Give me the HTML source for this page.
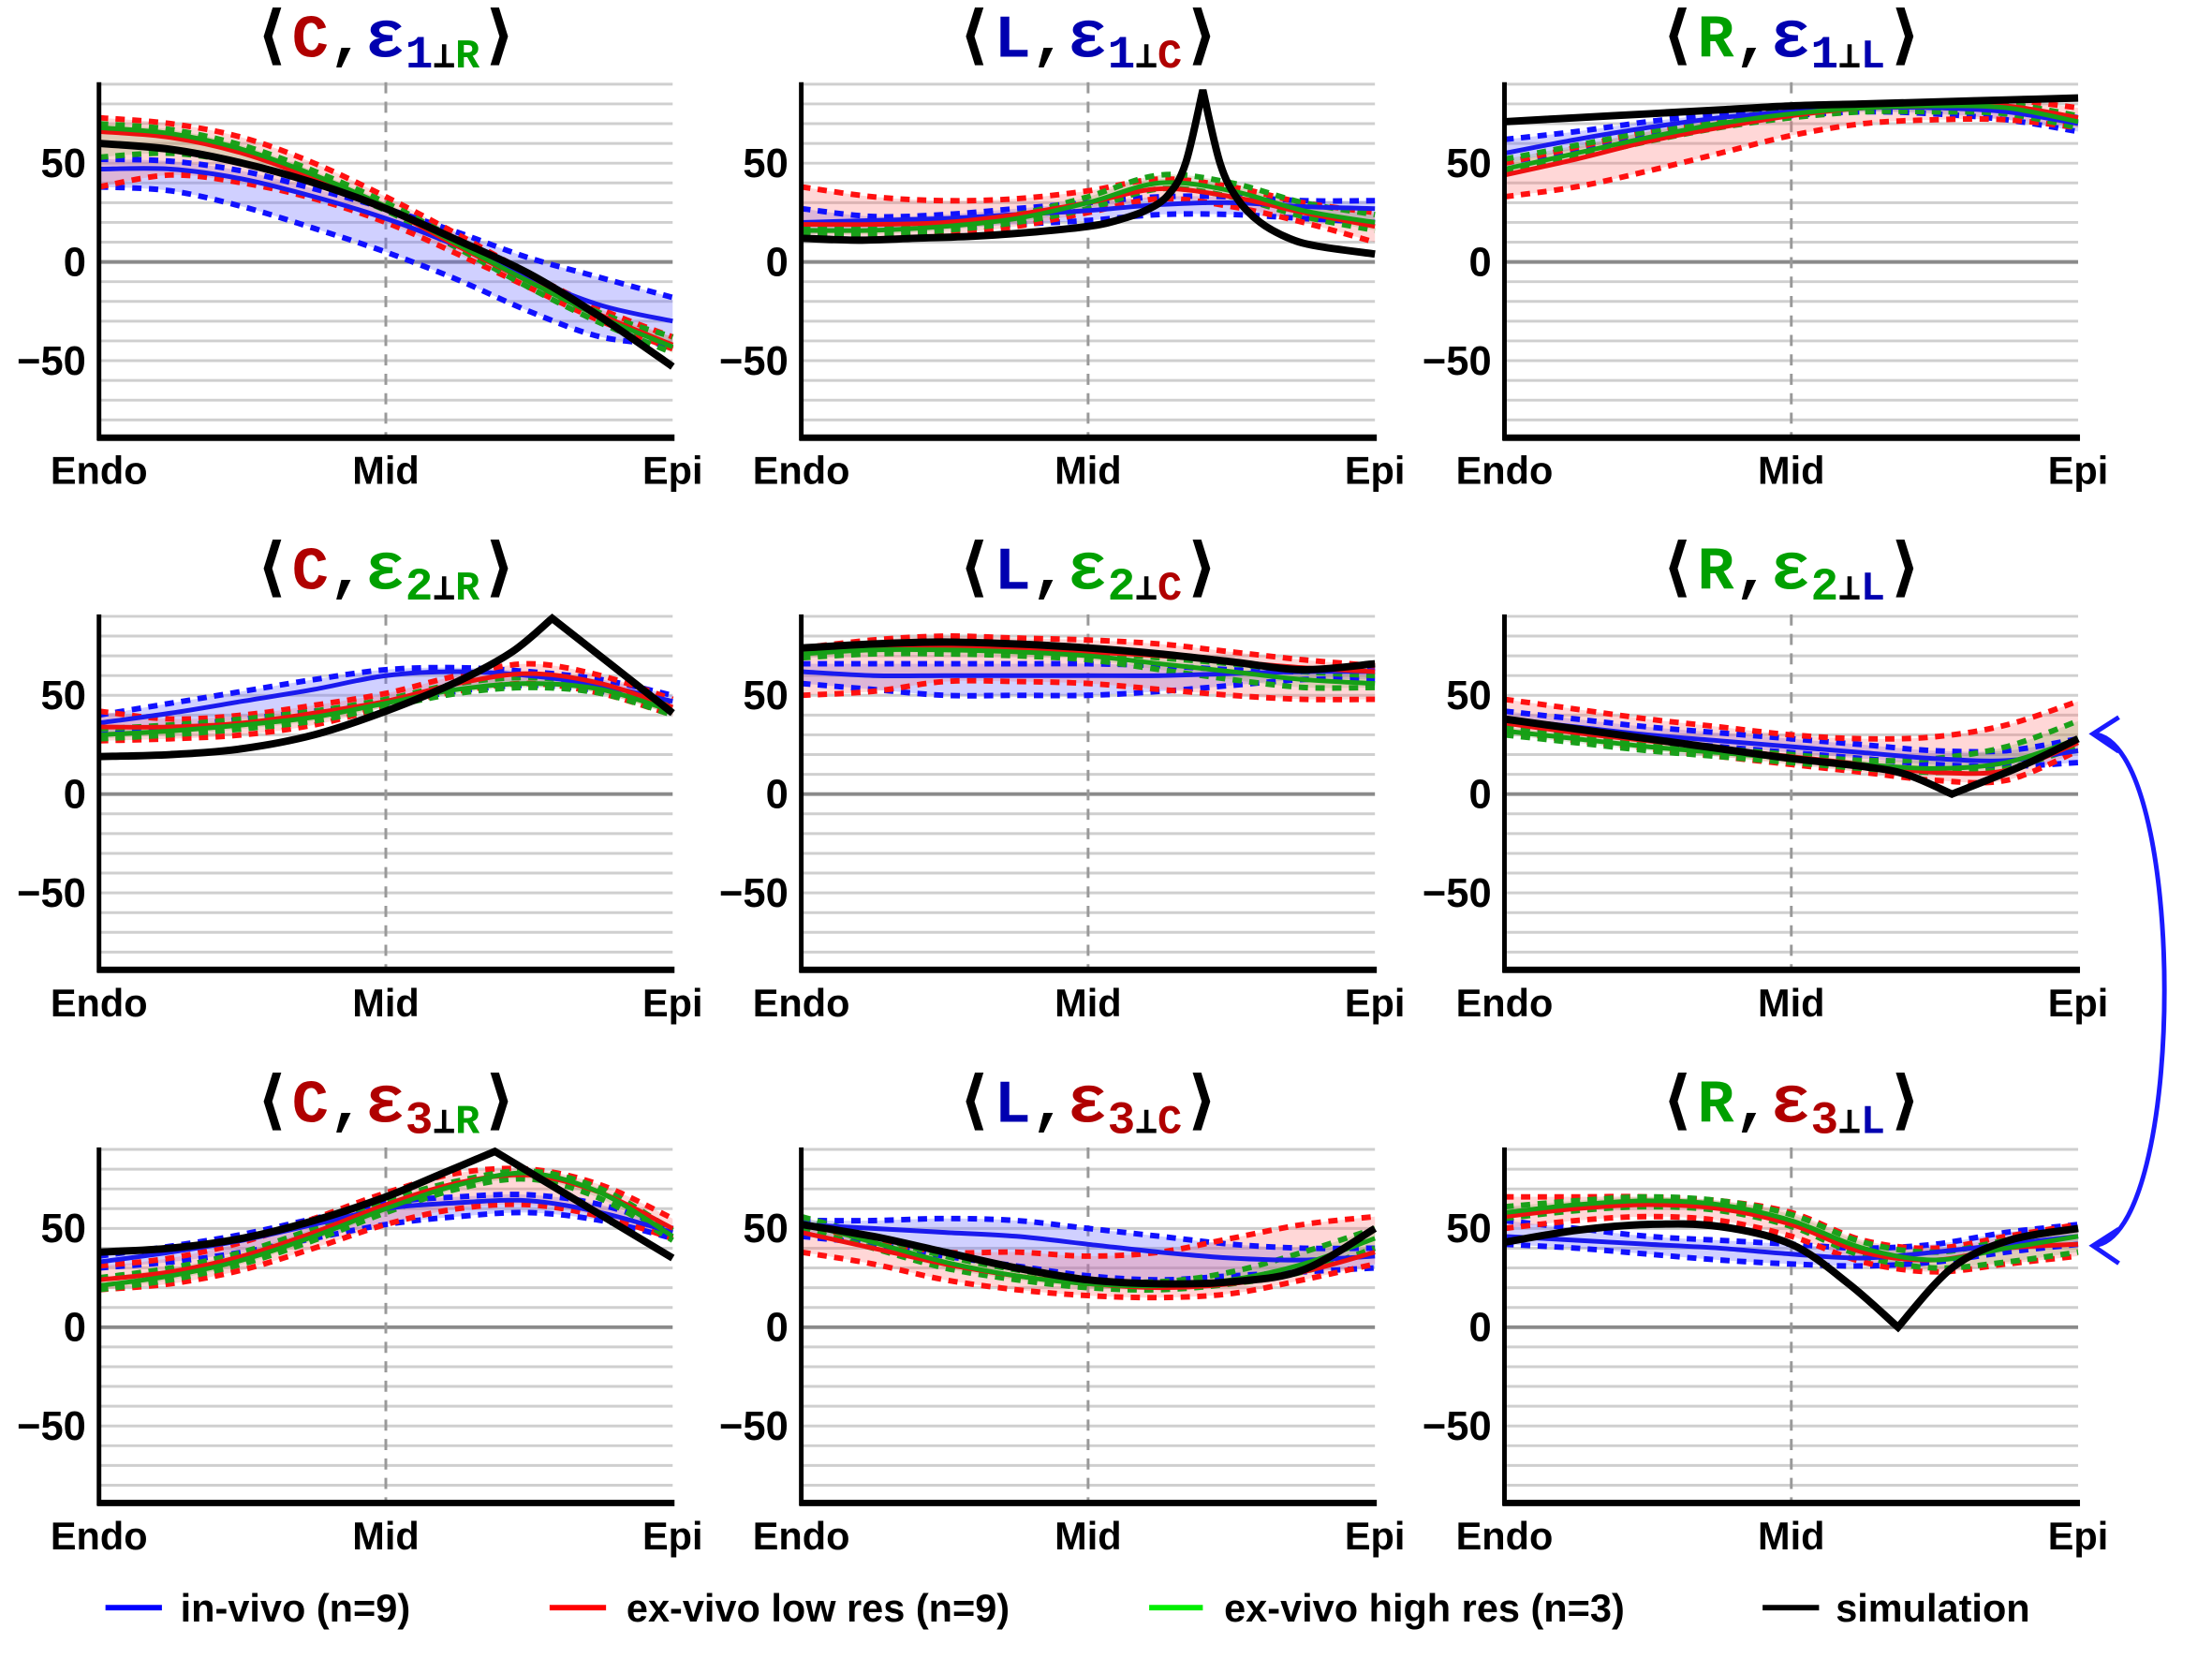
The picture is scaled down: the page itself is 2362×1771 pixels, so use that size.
<!DOCTYPE html>
<html><head><meta charset="utf-8"><style>
html,body{margin:0;padding:0;background:#fff;}
svg{display:block;}
text{font-family:"Liberation Sans Narrow","Liberation Sans",sans-serif;font-weight:bold;}
.t{font-family:"Liberation Mono",monospace;font-weight:bold;}
</style></head><body>
<svg id="fig" width="2362" height="1771" viewBox="0 0 2362 1771" xmlns="http://www.w3.org/2000/svg">
<g transform="scale(0.988)">
<g id="panels"></g>
<g>
 <line x1="114" y1="1737" x2="175" y2="1737" stroke="#0000ff" stroke-width="6"/>
 <text x="195" y="1752" font-size="42">in-vivo (n=9)</text>
 <line x1="594" y1="1737" x2="655" y2="1737" stroke="#ff0000" stroke-width="6"/>
 <text x="677" y="1752" font-size="42">ex-vivo low res (n=9)</text>
 <line x1="1242" y1="1737" x2="1300" y2="1737" stroke="#00ee00" stroke-width="6"/>
 <text x="1323" y="1752" font-size="42">ex-vivo high res (n=3)</text>
 <line x1="1905" y1="1737" x2="1966" y2="1737" stroke="#000" stroke-width="6"/>
 <text x="1984" y="1752" font-size="42">simulation</text>
</g>
<g fill="none" stroke="#1a1aff" stroke-width="5">
 <path d="M2262 793 C2365 800 2365 1340 2262 1346"/>
 <path d="M2290 775 L2262 793 L2290 812"/>
 <path d="M2290 1328 L2262 1346 L2290 1365"/>
</g>
</g>
</svg>
<script>
const xs=[0,0.125,0.25,0.375,0.5,0.625,0.75,0.875,1];
const blueMean=[[47,47,42,33,22,8,-8,-22,-30],[20,21,22,24,26,29,30,28,27],[55,62,68,73,76,78,78,76,70],[36,41,47,53,60,62,60,55,47],[62,60,60,60,60,60,61,62,62],[38,34,30,27,24,21,18,17,22],[33,38,44,52,60,63,64,58,48],[52,50,48,46,42,38,35,34,36],[46,44,42,40,37,35,38,42,46]];
const blueLo=[[38,36,28,17,5,-9,-25,-38,-42],[14,16,17,19,21,24,24,22,20],[50,57,64,70,74,76,75,72,66],[30,34,38,42,46,52,55,52,45],[56,53,50,50,50,52,55,58,58],[35,31,27,24,21,18,15,14,16],[30,33,38,45,52,56,58,54,45],[46,42,36,31,26,24,26,28,30],[42,40,37,34,32,31,33,38,42]];
const blueHi=[[52,51,46,37,27,15,2,-8,-18],[27,23,24,27,30,33,33,31,31],[62,66,71,75,78,79,79,78,73],[40,46,52,58,63,64,62,58,50],[66,66,66,66,66,65,63,62,64],[42,38,34,31,28,25,22,22,28],[36,41,47,55,63,66,67,62,50],[54,54,55,54,50,46,42,40,40],[54,50,46,44,42,40,42,48,52]];
const redMean=[[66,63,55,42,27,8,-10,-27,-42],[19,19,20,24,30,37,33,25,18],[44,52,61,68,74,78,79,79,73],[34,34,36,41,47,56,61,56,44],[72,74,75,74,72,70,67,64,62],[36,31,27,23,19,15,11,12,26],[24,28,36,48,62,73,77,68,50],[48,40,32,26,22,20,22,28,38],[56,60,62,60,52,38,34,40,42]];
const redLo=[[38,44,40,32,20,4,-13,-30,-44],[14,13,14,18,25,32,28,20,10],[33,38,46,55,64,70,72,72,68],[27,28,30,35,44,52,56,51,40],[50,52,57,57,56,53,50,48,48],[32,27,23,19,15,11,7,7,22],[19,22,29,40,52,60,62,56,45],[38,32,24,19,16,15,17,24,32],[50,54,56,54,46,33,28,32,36]];
const redHi=[[73,70,63,50,33,14,-6,-24,-38],[38,33,31,32,36,42,38,30,25],[50,58,66,72,77,80,81,82,78],[42,38,40,45,51,60,66,60,48],[74,78,80,79,78,76,72,68,65],[48,43,38,34,30,28,29,35,47],[31,35,43,55,68,78,80,72,55],[52,44,38,38,36,38,45,52,56],[66,66,66,64,58,44,40,46,52]];
const greenMean=[[68,65,57,44,28,9,-10,-28,-43],[16,16,18,22,30,40,36,26,20],[47,55,63,70,75,78,79,78,71],[30,32,35,39,46,53,56,53,42],[71,73,73,72,70,66,62,58,56],[32,28,24,21,18,15,13,16,28],[21,26,34,46,60,72,78,68,46],[53,43,33,26,22,21,24,32,45],[58,62,64,62,54,40,34,40,46]];
const greenLo=[[53,55,50,40,26,7,-13,-31,-46],[14,14,16,20,27,37,33,23,16],[45,53,61,68,73,76,76,75,68],[28,30,33,37,44,51,54,51,40],[69,71,71,70,68,63,58,54,54],[30,26,22,19,16,13,11,13,24],[19,24,32,44,58,70,75,65,44],[50,40,30,24,20,19,22,28,40],[55,59,61,59,51,36,30,33,38]];
const greenHi=[[70,67,59,46,30,11,-8,-26,-38],[18,18,20,24,33,44,40,30,24],[52,59,66,72,77,80,80,80,74],[33,35,38,42,48,56,59,55,45],[73,75,75,74,72,69,66,62,60],[34,30,26,23,20,17,18,24,37],[25,30,38,50,64,74,79,70,49],[56,46,36,29,24,23,28,38,50],[61,64,66,64,57,43,38,44,50]];
const simX=[[0,0.125,0.25,0.375,0.5,0.625,0.75,0.875,1],[0,0.1,0.2,0.3,0.4,0.5,0.55,0.6,0.64,0.67,0.7,0.73,0.76,0.8,0.85,0.9,1],[0,0.125,0.25,0.375,0.5,0.625,0.75,0.875,1],[0,0.125,0.25,0.375,0.5,0.625,0.72,0.79,1],[0,0.125,0.25,0.375,0.5,0.625,0.75,0.875,1],[0,0.125,0.25,0.375,0.5,0.625,0.7,0.78,0.9,1],[0,0.125,0.25,0.375,0.5,0.6,0.69,1],[0,0.125,0.25,0.375,0.5,0.625,0.75,0.875,1],[0,0.125,0.25,0.375,0.5,0.6,0.686,0.78,0.88,1]];
const simY=[[60,57,50,40,27,11,-6,-28,-53],[12,11,12,13,15,18,21,26,34,50,87,50,32,20,12,8,4],[71,73,75,77,79,80,81,82,83],[19,20,23,30,42,57,72,89,41],[74,76,77,76,74,71,67,63,66],[38,33,28,23,18,14,10,0,14,28],[38,40,45,54,66,78,89,35],[52,46,38,30,24,22,23,29,50],[43,49,52,51,42,22,0,30,44,50]];
const simKink=[-1,10,-1,7,-1,7,6,-1,6];
const tickVals=[50,0,-50];
const xLabels=["Endo","Mid","Epi"];
const colX0=[107,866,1626], W=620, rowZero=[283,858,1434], PU=2.134;
const RED="#b00000",BLUE="#0000b0",GREEN="#00a000";
const firstLetter=[["C",RED],["L",BLUE],["R",GREEN]];
const subLetter=[["R",GREEN],["C",RED],["L",BLUE]];
const epsColor=[BLUE,GREEN,RED];
const NS="http://www.w3.org/2000/svg";
const root=document.getElementById('panels');
function mk(tag,attrs,parent){const e=document.createElementNS(NS,tag);for(const k in attrs)e.setAttribute(k,attrs[k]);parent.appendChild(e);return e;}
function segs(pts){let d="";for(let i=0;i<pts.length-1;i++){const p0=pts[Math.max(0,i-1)],p1=pts[i],p2=pts[i+1],p3=pts[Math.min(pts.length-1,i+2)];const c1=[p1[0]+(p2[0]-p0[0])/6,p1[1]+(p2[1]-p0[1])/6],c2=[p2[0]-(p3[0]-p1[0])/6,p2[1]-(p3[1]-p1[1])/6];d+=" C"+c1[0].toFixed(1)+" "+c1[1].toFixed(1)+" "+c2[0].toFixed(1)+" "+c2[1].toFixed(1)+" "+p2[0].toFixed(1)+" "+p2[1].toFixed(1);}return d;}
function smooth(pts){return "M"+pts[0][0]+" "+pts[0][1]+segs(pts);}
for(let r=0;r<3;r++)for(let c=0;c<3;c++){
 const p=r*3+c, x0=colX0[c], z=rowZero[r];
 const X=t=>x0+t*W, Y=v=>z-v*PU;
 const g=mk('g',{},root);
 
 
 for(let v=-80;v<=90;v+=10){if(v===0)continue;const l=mk('line',{x1:x0,x2:x0+W,y1:Y(v),y2:Y(v),stroke:"#cfcfcf","stroke-width":3},g);}
 const zl=mk('line',{x1:x0,x2:x0+W,y1:z,y2:z,stroke:"#8a8a8a","stroke-width":4},g);
 
 const ml=mk('line',{x1:X(0.5),x2:X(0.5),y1:Y(91),y2:Y(-89),stroke:"#999","stroke-width":3,"stroke-dasharray":"12 9"},g);
 
 const bands=[[blueLo,blueHi,"rgba(110,110,255,0.32)"],[redLo,redHi,"rgba(255,110,110,0.28)"],[greenLo,greenHi,"rgba(130,170,90,0.25)"]];
 bands.forEach((b,i)=>{const lo=xs.map((t,k)=>[X(t),Y(b[0][p][k])]),hi=xs.map((t,k)=>[X(t),Y(b[1][p][k])]).reverse();
  const d=smooth(lo)+" L"+hi[0][0]+" "+hi[0][1]+segs(hi)+" Z";
  const e=mk('path',{d:d,fill:b[2],stroke:"none"},g);});
 const series=[[blueLo,"#1010ff",1],[blueHi,"#1010ff",1],[redLo,"#ff1010",1],[redHi,"#ff1010",1],[greenLo,"#1aa01a",1],[greenHi,"#1aa01a",1],[blueMean,"#1a1aee",0],[redMean,"#ee1010",0],[greenMean,"#16a016",0]];
 const names=['blue-lower','blue-upper','red-lower','red-upper','green-lower','green-upper','blue-mean','red-mean','green-mean'];
 series.forEach((s,i)=>{const pts=xs.map((t,k)=>[X(t),Y(s[0][p][k])]);const a={d:smooth(pts),fill:"none",stroke:s[1],"stroke-width":s[2]?6:5};if(s[2])a["stroke-dasharray"]="10 8";const e=mk('path',a,g);});
 const sp=simX[p].map((t,k)=>[X(t),Y(simY[p][k])]);
 const kk=simKink[p];
 const sd=kk<0?smooth(sp):smooth(sp.slice(0,kk+1))+segs(sp.slice(kk));
 const sl=mk('path',{d:sd,fill:"none",stroke:"#000","stroke-width":8,"stroke-linejoin":"miter"},g);
 
 const ya=mk('line',{x1:x0,x2:x0,y1:Y(91),y2:Y(-89)+3,stroke:"#000","stroke-width":5},g);
 
 const xa=mk('line',{x1:x0-2,x2:x0+W+2,y1:Y(-89),y2:Y(-89),stroke:"#000","stroke-width":7},g);
 
 tickVals.forEach(v=>{const t=mk('text',{x:x0-14,y:Y(v)+15,"font-size":44,"text-anchor":"end"},g);t.textContent=v<0?"\u2212"+(-v):String(v);});
 xLabels.forEach((s,i)=>{const t=mk('text',{x:X(i/2),y:Y(-89)+50,"font-size":42,"text-anchor":"middle"},g);t.textContent=s;});
 const cx=X(0.5), ty=z-222;
 const tt=mk('text',{x:cx,y:ty,"text-anchor":"middle","font-size":66,"class":"t"},g);
 
 const parts=[["\u27E8","#000",70,0],[firstLetter[c][0],firstLetter[c][1],66,0],[",","#000",66,0],["\u03B5",epsColor[r],72,0],[String(r+1),epsColor[r],50,12],["\u22A5","#000",40,0],[subLetter[c][0],subLetter[c][1],44,0],["\u27E9","#000",70,-12]];
 parts.forEach(q=>{const s=mk('tspan',{fill:q[1],"font-size":q[2],dy:q[3]},tt);s.textContent=q[0];});
}
</script>
</body></html>
